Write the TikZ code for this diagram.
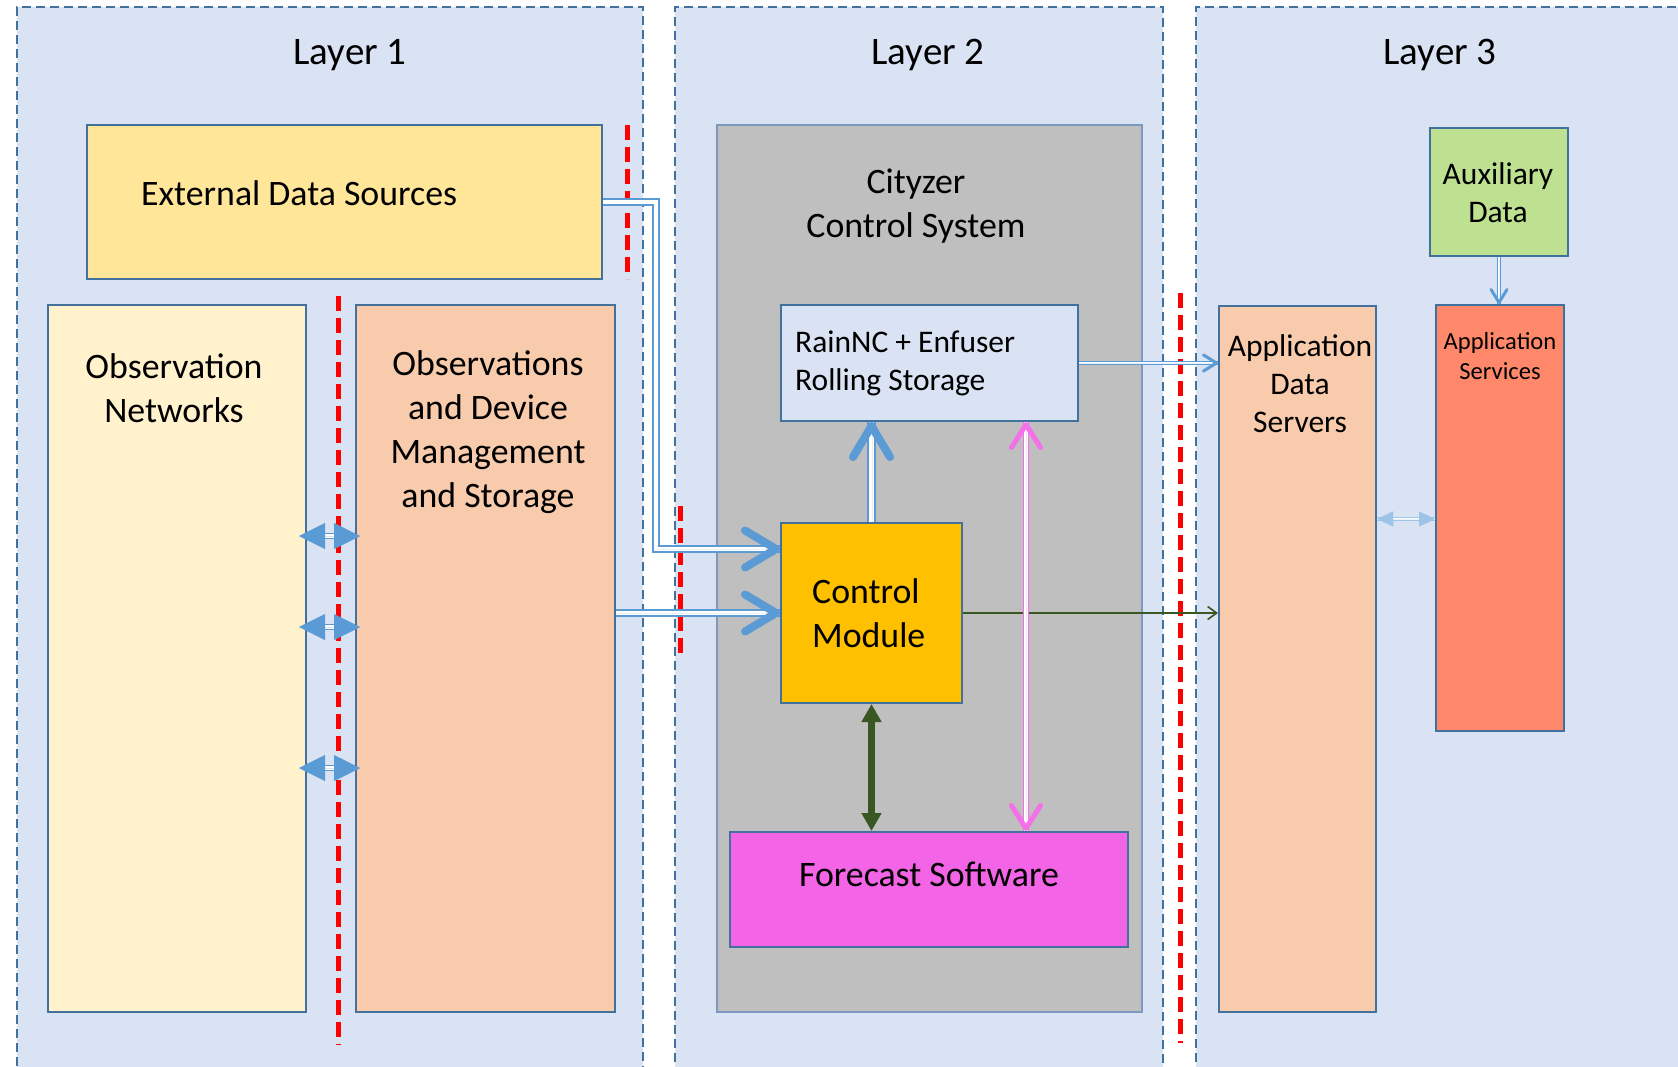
\documentclass[tikz,border=0pt]{standalone}
\usepackage{fontspec}
\setmainfont{Carlito}
\usetikzlibrary{arrows.meta}
\definecolor{layerfill}{RGB}{218,227,243}
\definecolor{bord}{RGB}{65,113,156}
\definecolor{extfill}{RGB}{255,230,153}
\definecolor{obsnetfill}{RGB}{255,242,204}
\definecolor{peach}{RGB}{248,203,173}
\definecolor{cityfill}{RGB}{191,191,191}
\definecolor{cityborder}{RGB}{124,152,190}
\definecolor{cmfill}{RGB}{255,192,0}
\definecolor{fcfill}{RGB}{243,100,230}
\definecolor{auxfill}{RGB}{189,224,145}
\definecolor{svcfill}{RGB}{255,136,106}
\definecolor{arrblue}{RGB}{91,155,213}
\definecolor{arrlight}{RGB}{157,195,230}
\definecolor{arrmag}{RGB}{244,112,232}
\definecolor{arrgreen}{RGB}{56,87,35}
\tikzset{
  layerbox/.style={draw=bord, fill=layerfill, line width=2pt, dash pattern=on 9pt off 5pt, inner sep=0pt, anchor=north west},
  box/.style={draw=bord, line width=2pt, inner sep=0pt},
  txt/.style={inner sep=0pt, font=\fontsize{35.8}{44}\selectfont, align=center},
  txtm/.style={inner sep=0pt, font=\fontsize{31.5}{38}\selectfont, align=center},
  txts/.style={inner sep=0pt, font=\fontsize{24.6}{30}\selectfont, align=center},
  titletxt/.style={inner sep=0pt, font=\fontsize{39}{47}\selectfont, anchor=base},
  redsep/.style={draw=red, line width=5pt, dash pattern=on 15pt off 7pt},
  dblbig/.style={draw=arrblue, line width=1.8pt, double=white, double distance=4.5pt},
  dblthin/.style={draw=arrblue, line width=1.2pt, double=white, double distance=2pt},
  dblobs/.style={draw=arrblue, line width=1.5pt, double=white, double distance=3.5pt},
  dbllight/.style={draw=arrlight, line width=1.2pt, double=white, double distance=2pt},
  dblmag/.style={draw=arrmag, line width=1.5pt, double=white, double distance=3.5pt},
  tipline/.style={line width=0.01pt},
  bigtip/.style={tipline, draw=arrblue, -{Straight Barb[length=31pt, width=37pt, line width=8pt, round]}},
  smalltip/.style={tipline, draw=arrblue, -{Straight Barb[length=13pt, width=16pt, line width=3pt, round]}},
  magtip/.style={tipline, draw=arrmag, fill=arrmag, {Straight Barb[length=23pt, width=29pt, line width=5pt, round]}-{Straight Barb[length=23pt, width=29pt, line width=5pt, round]}},
  obstip/.style={tipline, draw=arrblue, fill=arrblue, {Triangle[length=26pt, width=26pt]}-{Triangle[length=26pt, width=26pt]}},
  lighttip/.style={tipline, draw=arrlight, fill=arrlight, {Triangle[length=16pt, width=15pt]}-{Triangle[length=16pt, width=15pt]}},
  greenbi/.style={draw=arrgreen, fill=arrgreen, line width=7pt, {Triangle[length=18pt, width=19pt]}-{Triangle[length=18pt, width=19pt]}},
  greenline/.style={draw=arrgreen, line width=1.6pt, -{Straight Barb[length=9pt, width=13pt, line width=1.6pt]}},
}
\begin{document}
\begin{tikzpicture}[x=1pt, y=-1pt]
\useasboundingbox (0,0) rectangle (1678,1067);
\fill[white] (0,0) rectangle (1678,1067);
\clip (0,0) rectangle (1678,1067);

% layers
\node[layerbox, minimum width=626pt, minimum height=1100pt] (L1) at (16,6) {};
\node[layerbox, minimum width=488pt, minimum height=1100pt] (L2) at (674,6) {};
\node[layerbox, minimum width=600pt, minimum height=1100pt] (L3) at (1195,6) {};
\node[titletxt] (t1) at (350,65) {Layer 1};
\node[titletxt] (t2) at (928,65) {Layer 2};
\node[titletxt] (t3) at (1440,65) {Layer 3};

% layer 1 boxes
\node[box, fill=extfill, minimum width=515pt, minimum height=154pt] (ext) at (344.5,202) {};
\node[txt, anchor=base west] (extT) at (141,206) {External Data Sources};
\node[box, fill=obsnetfill, minimum width=258pt, minimum height=707pt] (obsnet) at (177,658.5) {};
\node[txt] (obsnetT) at (174,388) {Observation\\Networks};
\node[box, fill=peach, minimum width=259pt, minimum height=707pt] (obsstore) at (485.5,658.5) {};
\node[txt] (obsstoreT) at (488,432) {Observations\\and Device\\Management\\and Storage};

% layer 2 boxes
\node[draw=cityborder, line width=2.5pt, fill=cityfill, inner sep=0pt, minimum width=425pt, minimum height=887pt] (city) at (929.5,568.5) {};
\node[txt] (cityT) at (916,206) {Cityzer\\Control System};
\node[box, fill=layerfill, minimum width=297pt, minimum height=116pt] (rain) at (929.5,363) {};
\node[txtm, align=left, anchor=west] (rainT) at (795,363) {RainNC + Enfuser\\Rolling Storage};
\node[box, fill=cmfill, minimum width=181pt, minimum height=180pt] (cm) at (871.5,613) {};
\node[txt, align=left, anchor=west] (cmT) at (812,613.5) {Control\\Module};
\node[box, fill=fcfill, minimum width=398pt, minimum height=115pt] (fc) at (929,889.5) {};
\node[txt, anchor=base] (fcT) at (929,886) {Forecast Software};

% layer 3 boxes
\node[box, fill=peach, minimum width=157pt, minimum height=706pt] (ads) at (1297.5,659) {};
\node[txtm] (adsT) at (1300,384) {Application\\Data\\Servers};
\node[box, fill=auxfill, minimum width=138pt, minimum height=128pt] (aux) at (1499,192) {};
\node[txtm] (auxT) at (1498,193) {Auxiliary\\Data};
\node[box, fill=svcfill, minimum width=128pt, minimum height=426pt] (asvc) at (1500,518) {};
\node[txts] (asvcT) at (1500,356) {Application\\Services};

% red separators
\draw[redsep] (627,125) -- (627,279);
\draw[redsep] (338,296) -- (338,1045);
\draw[redsep] (680,506) -- (680,658);
\draw[redsep] (1180,293) -- (1180,1043);

% connectors
\coordinate (cmA) at (cm.west |- 0,549);
\draw[dblbig] (ext.east) -| (656,549) -- (cmA);
\draw[bigtip] (656,549) -- (cmA);
\draw[dblbig] (obsstore.east |- cm.west) -- (cm.west);
\draw[bigtip] (obsstore.east |- cm.west) -- (cm.west);
\draw[dblbig] (cm.north) -- (cm.north |- rain.south);
\draw[bigtip] (cm.north) -- (cm.north |- rain.south);
\draw[dblthin] (rain.east) -- (ads.west |- rain.east);
\draw[smalltip] (rain.east) -- (ads.west |- rain.east);
\draw[greenline] (cm.east) -- (ads.west |- cm.east);
\draw[greenbi] (cm.south) -- (cm.south |- fc.north);
\draw[dblmag] (rain.south -| 1026,0) -- (fc.north -| 1026,0);
\draw[magtip] (rain.south -| 1026,0) -- (fc.north -| 1026,0);
\foreach \yy in {536,627,768}{
  \draw[dblobs] (obsnet.east |- 0,\yy) -- (obsstore.west |- 0,\yy);
  \draw[obstip, shorten <=-8pt, shorten >=-5pt] (obsnet.east |- 0,\yy) -- (obsstore.west |- 0,\yy);
}
\draw[dbllight] (ads.east |- 0,519) -- (asvc.west |- 0,519);
\draw[lighttip] (ads.east |- 0,519) -- (asvc.west |- 0,519);
\draw[dblthin] (aux.south) -- (aux.south |- asvc.north);
\draw[smalltip] (aux.south) -- (aux.south |- asvc.north);
\end{tikzpicture}
\end{document}
